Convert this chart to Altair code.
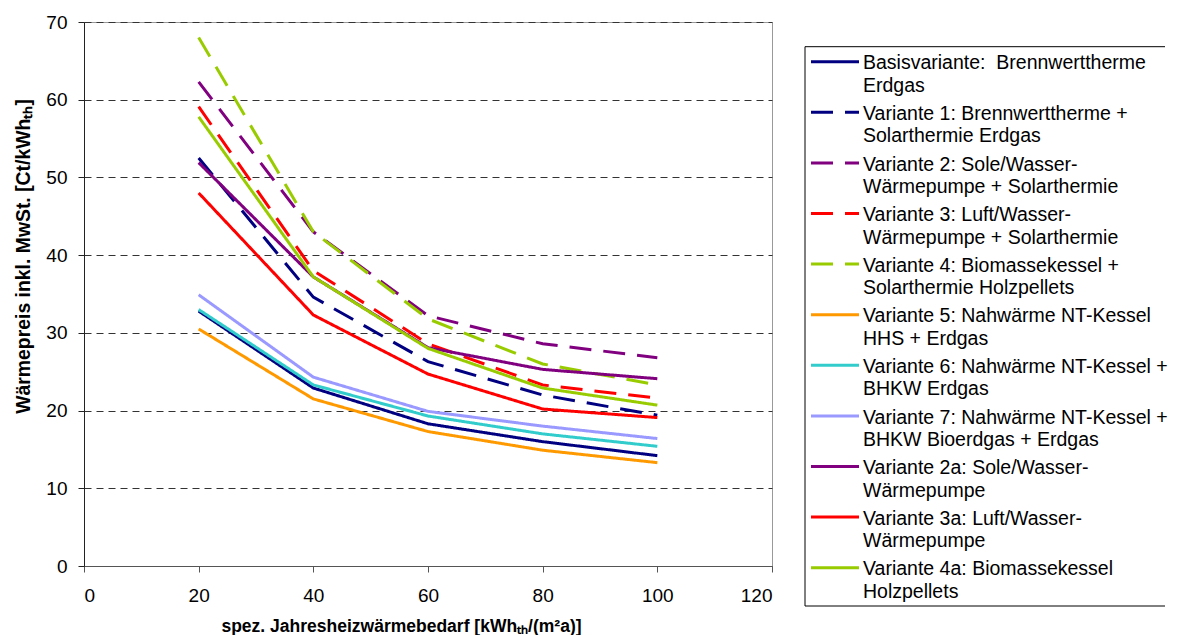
import altair as alt
import pandas as pd

FONT = "Liberation Sans, Arial, Helvetica, sans-serif"

x_vals = [20, 40, 60, 80, 100]

series_names = ["Basis", "V1", "V2", "V3", "V4", "V5", "V6", "V7", "V2a", "V3a", "V4a"]
label_line1 = [
    "Basisvariante:\u00a0 Brennwerttherme",
    "Variante 1: Brennwerttherme +",
    "Variante 2: Sole/Wasser-",
    "Variante 3: Luft/Wasser-",
    "Variante 4: Biomassekessel +",
    "Variante 5: Nahwärme NT-Kessel",
    "Variante 6: Nahwärme NT-Kessel +",
    "Variante 7: Nahwärme NT-Kessel +",
    "Variante 2a: Sole/Wasser-",
    "Variante 3a: Luft/Wasser-",
    "Variante 4a: Biomassekessel",
]
label_line2 = [
    "Erdgas",
    "Solarthermie Erdgas",
    "Wärmepumpe + Solarthermie",
    "Wärmepumpe + Solarthermie",
    "Solarthermie Holzpellets",
    "HHS + Erdgas",
    "BHKW Erdgas",
    "BHKW Bioerdgas + Erdgas",
    "Wärmepumpe",
    "Wärmepumpe",
    "Holzpellets",
]
colors = ["#000080", "#000080", "#800080", "#FF0000", "#99CC00",
          "#FF9900", "#33CCCC", "#9999FF", "#800080", "#FF0000", "#99CC00"]
styles = ["solid", "dashed", "dashed", "dashed", "dashed",
          "solid", "solid", "solid", "solid", "solid", "solid"]

basis = [32.8, 22.9, 18.3, 16.0, 14.2]
v1 = [52.5, 34.6, 26.3, 22.0, 19.4]
v2 = [62.3, 43.0, 32.2, 28.6, 26.8]
v3 = [59.1, 38.0, 28.6, 23.3, 21.6]
v4 = [68.0, 43.0, 31.8, 26.0, 23.3]
v5 = [30.5, 21.5, 17.3, 14.9, 13.3]
v6 = [33.0, 23.3, 19.3, 17.0, 15.4]
v7 = [34.9, 24.3, 19.9, 18.0, 16.4]
v2a = [51.9, 37.2, 28.1, 25.3, 24.1]
v3a = [48.0, 32.3, 24.7, 20.2, 19.1]
v4a = [57.8, 37.2, 28.0, 22.9, 20.7]
all_values = [basis, v1, v2, v3, v4, v5, v6, v7, v2a, v3a, v4a]

x_ticks = [0, 20, 40, 60, 80, 100, 120]
y_ticks = [0, 10, 20, 30, 40, 50, 60, 70]

rows = []
for i, (name, vals) in enumerate(zip(series_names, all_values)):
    for xv, yv in zip(x_vals, vals):
        rows.append({"series": name, "order": i, "style": styles[i], "x": xv, "y": yv})
df = pd.DataFrame(rows)

legend_df = pd.DataFrame({
    "series": series_names,
    "idx": list(range(len(series_names))),
    "style": styles,
    "label": [a + "\n" + b for a, b in zip(label_line1, label_line2)],
})

color_scale = alt.Scale(domain=series_names, range=colors)
dash_scale = alt.Scale(domain=["solid", "dashed"], range=[[1, 0], [22, 12]])

main = alt.Chart(df).mark_line(strokeWidth=3).encode(
    x=alt.X("x:Q", scale=alt.Scale(domain=[0, 120], nice=False),
            axis=alt.Axis(values=x_ticks, grid=False, tickSize=6, labelPadding=14.5,
                          labelFontSize=19, labelFont=FONT, labelColor="black",
                          domainColor="#555", tickColor="#555",
                          title="spez. Jahresheizwärmebedarf [kWhₜₕ/(m²a)]",
                          titleFont=FONT, titleFontSize=17.5, titleFontWeight="bold",
                          titleColor="black", titleX=317, titleY=65,
                          titleBaseline="alphabetic", titleAlign="center")),
    y=alt.Y("y:Q", scale=alt.Scale(domain=[0, 70], nice=False),
            axis=alt.Axis(values=y_ticks, grid=True, gridDash=[7, 5], gridColor="#333",
                          gridWidth=1, tickSize=6, labelPadding=11,
                          labelFontSize=19, labelFont=FONT, labelColor="black",
                          domainColor="#222", tickColor="#222",
                          title="Wärmepreis inkl. MwSt. [Ct/kWhₜₕ]",
                          titleFont=FONT, titleFontSize=19.4, titleFontWeight="bold",
                          titleColor="black", titleX=-61, titleY=234, titleAngle=270,
                          titleBaseline="middle", titleAlign="center")),
    color=alt.Color("series:N", scale=color_scale, legend=None),
    strokeDash=alt.StrokeDash("style:N", scale=dash_scale, legend=None),
    detail="order:O",
).properties(width=688, height=544, view=alt.ViewBackground(stroke="#999", strokeWidth=1))

LEG_W = 360
leg_y = alt.Y("idx:Q", scale=alt.Scale(domain=[0, 10], range=[39.7, 545.7]), axis=None)

leg_symbols = alt.Chart(legend_df).mark_rule(strokeWidth=3).encode(
    x=alt.value(6), x2=alt.value(54), y=leg_y,
    color=alt.Color("series:N", scale=color_scale, legend=None),
    strokeDash=alt.StrokeDash("style:N", scale=dash_scale, legend=None),
)
leg_text = alt.Chart(legend_df).mark_text(
    align="left", baseline="top", dy=-7.4, lineBreak="\n", lineHeight=22.5,
    fontSize=19.5, font=FONT, color="black",
).encode(x=alt.value(58), y=leg_y, text="label:N")

box_df = pd.DataFrame({"edge": ["top", "bottom", "left"]})
box_top = alt.Chart(box_df.iloc[[0]]).mark_rule(color="black", strokeWidth=1).encode(
    x=alt.value(0), x2=alt.value(LEG_W), y=alt.value(24.7))
box_bottom = alt.Chart(box_df.iloc[[1]]).mark_rule(color="black", strokeWidth=1).encode(
    x=alt.value(0), x2=alt.value(LEG_W), y=alt.value(584))
box_left = alt.Chart(box_df.iloc[[2]]).mark_rule(color="black", strokeWidth=1).encode(
    x=alt.value(0), y=alt.value(24.7), y2=alt.value(584))

legend = alt.layer(box_top, box_bottom, box_left, leg_symbols, leg_text).properties(
    width=LEG_W, height=584, view=alt.ViewBackground(stroke="transparent"))

chart = alt.hconcat(main, legend, spacing=33, bounds="flush").properties(
    padding={"left": 4, "top": 4, "right": 0, "bottom": 0}
)

chart.save("out.html", embed_options={"renderer": "svg", "actions": False})
